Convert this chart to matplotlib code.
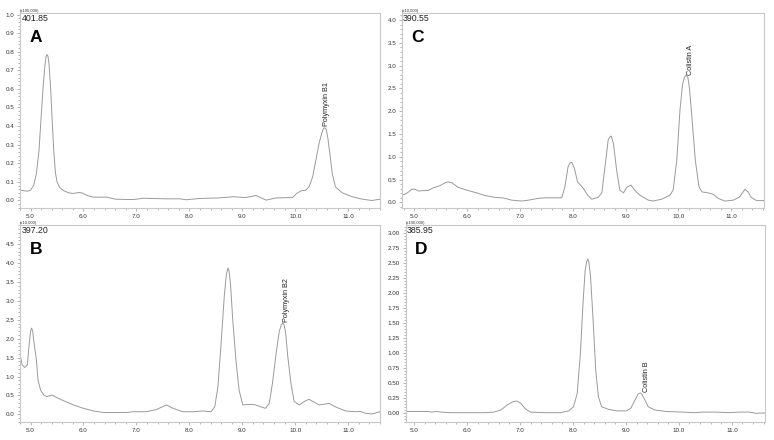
import matplotlib
matplotlib.use("Agg")
import matplotlib.pyplot as plt
from matplotlib.ticker import MultipleLocator, FormatStrFormatter

plt.rcParams["font.family"] = ["Liberation Sans", "DejaVu Sans"]

# retention time (min) / intensity (in units of the panel multiplier)
a_t = [4.81, 4.94, 5.00, 5.06, 5.11, 5.16, 5.20, 5.24, 5.27, 5.29, 5.31, 5.33, 5.35, 5.38,
       5.41, 5.44, 5.47, 5.50, 5.55, 5.63, 5.72, 5.81, 5.91, 5.97, 6.07, 6.19, 6.44, 6.60,
       6.94, 7.13, 7.57, 7.82, 7.94, 8.20, 8.57, 8.82, 9.07, 9.26, 9.45, 9.64, 9.95, 10.03,
       10.11, 10.20, 10.26, 10.33, 10.39, 10.45, 10.50, 10.53, 10.56, 10.59, 10.62, 10.66,
       10.70, 10.76, 10.89, 11.08, 11.27, 11.45, 11.60]
a_y = [0.055, 0.050, 0.055, 0.082, 0.145, 0.27, 0.45, 0.62, 0.72, 0.77, 0.785, 0.775, 0.73,
       0.60, 0.42, 0.26, 0.15, 0.10, 0.07, 0.052, 0.041, 0.038, 0.043, 0.041, 0.027, 0.018,
       0.018, 0.007, 0.005, 0.012, 0.009, 0.009, 0.004, 0.011, 0.014, 0.020, 0.016, 0.027,
       0.002, 0.014, 0.016, 0.038, 0.052, 0.055, 0.073, 0.127, 0.216, 0.306, 0.36, 0.385,
       0.392, 0.38, 0.33, 0.24, 0.145, 0.073, 0.041, 0.020, 0.007, 0.0, 0.007]

b_t = [4.81, 4.84, 4.89, 4.94, 4.97, 5.00, 5.02, 5.04, 5.07, 5.11, 5.14, 5.19, 5.25, 5.31,
       5.41, 5.53, 5.66, 5.81, 6.00, 6.19, 6.38, 6.63, 6.82, 6.94, 7.19, 7.38, 7.57, 7.69,
       7.88, 8.07, 8.26, 8.41, 8.48, 8.54, 8.60, 8.66, 8.70, 8.73, 8.75, 8.78, 8.82, 8.88,
       8.94, 9.01, 9.10, 9.23, 9.35, 9.44, 9.51, 9.57, 9.64, 9.70, 9.74, 9.77, 9.79, 9.82,
       9.86, 9.92, 9.98, 10.08, 10.17, 10.26, 10.45, 10.64, 10.76, 10.95, 11.14, 11.23,
       11.33, 11.45, 11.60]
b_y = [1.53, 1.31, 1.24, 1.31, 1.80, 2.20, 2.28, 2.20, 1.85, 1.44, 0.91, 0.64, 0.51, 0.47,
       0.51, 0.42, 0.34, 0.25, 0.16, 0.09, 0.05, 0.05, 0.05, 0.07, 0.07, 0.13, 0.25, 0.16,
       0.07, 0.07, 0.09, 0.07, 0.20, 0.73, 1.88, 3.12, 3.70, 3.87, 3.80, 3.40, 2.50, 1.44,
       0.64, 0.25, 0.26, 0.26, 0.20, 0.16, 0.29, 0.82, 1.62, 2.20, 2.37, 2.41, 2.37, 2.15,
       1.53, 0.82, 0.34, 0.25, 0.34, 0.40, 0.25, 0.29, 0.20, 0.09, 0.07, 0.08, 0.03, 0.01,
       0.07]

c_t = [4.76, 4.82, 4.89, 4.95, 5.01, 5.08, 5.17, 5.26, 5.36, 5.49, 5.58, 5.64, 5.71, 5.83,
       6.02, 6.18, 6.34, 6.53, 6.68, 6.84, 7.03, 7.16, 7.35, 7.47, 7.73, 7.79, 7.85, 7.91,
       7.95, 7.98, 8.03, 8.09, 8.20, 8.28, 8.36, 8.48, 8.55, 8.61, 8.67, 8.71, 8.73, 8.77,
       8.83, 8.89, 8.96, 9.02, 9.10, 9.18, 9.27, 9.43, 9.52, 9.68, 9.84, 9.90, 9.97, 10.03,
       10.08, 10.12, 10.15, 10.18, 10.21, 10.26, 10.32, 10.39, 10.45, 10.56, 10.66, 10.75,
       10.88, 11.04, 11.16, 11.26, 11.32, 11.38, 11.48, 11.62]
c_y = [0.16, 0.18, 0.23, 0.29, 0.29, 0.25, 0.26, 0.26, 0.32, 0.37, 0.43, 0.45, 0.43, 0.33,
       0.26, 0.21, 0.15, 0.11, 0.10, 0.05, 0.03, 0.05, 0.09, 0.10, 0.10, 0.10, 0.34, 0.78,
       0.87, 0.88, 0.75, 0.45, 0.31, 0.16, 0.07, 0.11, 0.21, 0.78, 1.37, 1.45, 1.45, 1.29,
       0.71, 0.27, 0.21, 0.33, 0.38, 0.26, 0.16, 0.05, 0.03, 0.07, 0.16, 0.27, 0.93, 2.03,
       2.60, 2.76, 2.79, 2.74, 2.50, 1.81, 0.93, 0.34, 0.23, 0.21, 0.18, 0.09, 0.03, 0.05,
       0.12, 0.29, 0.23, 0.11, 0.04, 0.04]

d_t = [4.84, 5.08, 5.26, 5.33, 5.42, 5.51, 5.70, 6.33, 6.51, 6.64, 6.76, 6.86, 6.94, 7.01,
       7.11, 7.20, 7.45, 7.76, 7.92, 8.01, 8.08, 8.14, 8.19, 8.23, 8.26, 8.28, 8.30, 8.33,
       8.38, 8.43, 8.48, 8.54, 8.67, 8.83, 9.01, 9.09, 9.17, 9.23, 9.27, 9.30, 9.36, 9.42,
       9.54, 9.76, 10.08, 10.29, 10.45, 10.70, 10.95, 11.14, 11.33, 11.45, 11.62]
d_y = [0.02, 0.02, 0.02, 0.01, 0.02, 0.01, 0.0, 0.0, 0.01, 0.045, 0.13, 0.18, 0.195, 0.16,
       0.056, 0.01, 0.0, 0.0, 0.03, 0.10, 0.32, 0.99, 1.83, 2.38, 2.53, 2.57, 2.52, 2.30,
       1.55, 0.71, 0.27, 0.10, 0.056, 0.03, 0.03, 0.07, 0.21, 0.31, 0.33, 0.31, 0.21, 0.10,
       0.045, 0.02, 0.01, 0.0, 0.01, 0.01, 0.0, 0.01, 0.01, -0.01, -0.005]

panels = [
    # letter, mz, multiplier, t, y, rect, xlim, ylim, ystep, ymax tick, fmt, peak label, pos
    ("A", "401.85", "(x100,000)", a_t, a_y, [0.0258, 0.527, 0.465, 0.443], (4.80, 11.60),
     (-0.041, 1.007), 0.1, 1.0, "%.1f", "Polymyxin B1", (10.60, 0.40)),
    ("B", "397.20", "(x10,000)", b_t, b_y, [0.0258, 0.041, 0.465, 0.448], (4.80, 11.60),
     (-0.20, 5.01), 0.5, 4.5, "%.1f", "Polymyxin B2", (9.83, 2.44)),
    ("C", "390.55", "(x10,000)", c_t, c_y, [0.519, 0.527, 0.468, 0.443], (4.76, 11.62),
     (-0.125, 4.15), 0.5, 4.0, "%.1f", "Colistin A", (10.22, 2.80)),
    ("D", "385.95", "(x100,000)", d_t, d_y, [0.524, 0.041, 0.464, 0.448], (4.84, 11.62),
     (-0.155, 3.14), 0.25, 3.0, "%.2f", "Colistin B", (9.38, 0.35)),
]

fig = plt.figure(figsize=(7.74, 4.4), dpi=100)
for letter, mz, mult, t, y, rect, xlim, ylim, ystep, ytop, fmt, name, (lx, ly) in panels:
    ax = fig.add_axes(rect)
    ax.plot(t, y, color="#9a9a9a", lw=0.7)
    ax.set_xlim(*xlim)
    ax.set_ylim(*ylim)
    ax.xaxis.set_major_locator(MultipleLocator(1.0))
    ax.xaxis.set_minor_locator(MultipleLocator(0.2))
    ax.xaxis.set_major_formatter(FormatStrFormatter("%.1f"))
    ax.yaxis.set_minor_locator(MultipleLocator(ystep / 5))
    n = int(round(ytop / ystep))
    ax.set_yticks([i * ystep for i in range(n + 1)])
    ax.yaxis.set_major_formatter(FormatStrFormatter(fmt))
    ax.set_ylim(*ylim)
    ax.tick_params(which="both", direction="out", color="#999999", width=0.5,
                   labelsize=4.5, labelcolor="#333333", pad=1.5)
    ax.tick_params(which="major", length=2.5)
    ax.tick_params(which="minor", length=1.5)
    for s in ax.spines.values():
        s.set_color("#c8c8c8")
        s.set_linewidth(0.8)
    ax.text(0.0, 1.0, mult, transform=ax.transAxes, ha="left", va="bottom", fontsize=3,
            color="#333333")
    ax.text(0.004, 0.995, mz, transform=ax.transAxes, ha="left", va="top", fontsize=6.3,
            color="#222222")
    ax.text(0.027, 0.85, letter, transform=ax.transAxes, ha="left", va="baseline",
            fontsize=12.5, fontweight="bold", color="black")
    ax.text(lx, ly, name, rotation=90, ha="center", va="bottom", fontsize=5.2,
            color="#222222")

fig.savefig("out.png", dpi=100)
